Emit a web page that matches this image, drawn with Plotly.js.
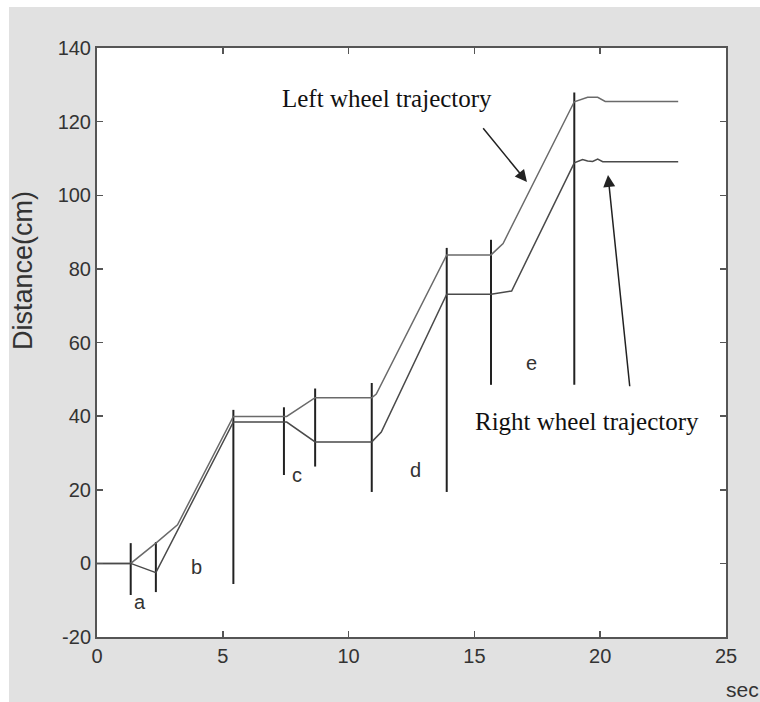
<!DOCTYPE html>
<html>
<head>
<meta charset="utf-8">
<script src="https://cdn.plot.ly/plotly-3.0.1.min.js"></script>
<style>
  html, body { margin: 0; padding: 0; background: #ffffff; }
  #chart { position: absolute; left: 9px; top: 7px; width: 751px; height: 695px; }
</style>
</head>
<body>
<div id="chart"></div>
<script>
// Left wheel trajectory (upper curve)
var leftX = [0, 1.34, 2.34, 3.2, 5.42, 7.54, 8.67, 10.92, 11.1, 13.9, 15.66, 16.14, 18.97, 19.3, 19.5, 19.9, 20.2, 23.1];
var leftY = [0, 0, 5.5, 10.5, 39.9, 39.9, 45.0, 45.0, 46.0, 83.8, 83.8, 86.9, 125.4, 126.2, 126.6, 126.6, 125.5, 125.5];
// Right wheel trajectory (lower curve)
var rightX = [0, 1.34, 2.34, 5.42, 7.54, 8.67, 10.92, 11.3, 13.9, 15.66, 16.48, 18.97, 19.3, 19.5, 19.7, 19.9, 20.1, 23.1];
var rightY = [0, 0, -2.5, 38.4, 38.4, 33.0, 33.0, 35.7, 73.1, 73.1, 74.0, 108.8, 109.7, 109.3, 109.2, 109.8, 109.1, 109.1];
// Phase boundary markers (vertical segments)
var markX = [1.34, 2.34, 5.42, 7.43, 8.67, 10.92, 13.9, 15.66, 18.97];
var markTop = [5.5, 5.8, 41.7, 42.4, 47.5, 49.0, 85.7, 87.9, 127.9];
var markBottom = [-8.6, -7.8, -5.6, 24.0, 26.3, 19.4, 19.4, 48.5, 48.5];
// Phase labels
var phaseText = ["a", "b", "c", "d", "e"];
var phaseX = [1.71, 3.96, 7.96, 12.64, 17.28];
var phaseY = [-10.4, -0.9, 24.0, 25.4, 54.3];
// Tick values
var xTicks = [0, 5, 10, 15, 20, 25];
var yTicks = [-20, 0, 20, 40, 60, 80, 100, 120, 140];

var segX = [], segY = [];
for (var i = 0; i < markX.length; i++) {
  segX.push(markX[i], markX[i], null);
  segY.push(markBottom[i], markTop[i], null);
}

var traces = [
  {x: segX, y: segY, type: 'scatter', mode: 'lines', line: {color: '#222222', width: 2}, hoverinfo: 'skip', showlegend: false},
  {x: leftX, y: leftY, type: 'scatter', mode: 'lines', name: 'Left wheel', line: {color: '#6a6a6a', width: 1.5}, showlegend: false},
  {x: rightX, y: rightY, type: 'scatter', mode: 'lines', name: 'Right wheel', line: {color: '#4a4a4a', width: 1.5}, showlegend: false}
];

var tickFont = {family: '"Liberation Sans Narrow", "Arial Narrow", "Liberation Sans", sans-serif', size: 20, color: '#333333'};
var serif = {family: '"Liberation Serif", "Times New Roman", serif', size: 25, color: '#111111'};

var annotations = [];
for (var j = 0; j < phaseText.length; j++) {
  annotations.push({x: phaseX[j], y: phaseY[j], xref: 'x', yref: 'y', text: phaseText[j], showarrow: false,
    font: {family: tickFont.family, size: 20, color: '#333333'}});
}
annotations.push({x: 11.51, y: 126.4, xref: 'x', yref: 'y', text: 'Left wheel trajectory', showarrow: false, font: serif});
annotations.push({x: 19.46, y: 38.5, xref: 'x', yref: 'y', text: 'Right wheel trajectory', showarrow: false, font: serif});
annotations.push({x: 17.09, y: 103.6, ax: 15.30, ay: 118.6, xref: 'x', yref: 'y', axref: 'x', ayref: 'y', text: '',
  showarrow: true, arrowhead: 2, arrowsize: 1.6, arrowwidth: 1.5, arrowcolor: '#222222'});
annotations.push({x: 20.31, y: 105.5, ax: 21.18, ay: 47.7, xref: 'x', yref: 'y', axref: 'x', ayref: 'y', text: '',
  showarrow: true, arrowhead: 2, arrowsize: 1.6, arrowwidth: 1.5, arrowcolor: '#222222'});
annotations.push({x: 14, y: 0.5, xref: 'paper', yref: 'paper', text: 'Distance(cm)', showarrow: false, textangle: -90,
  font: {family: '"Liberation Sans", Arial, sans-serif', size: 27, color: '#333333'}});
annotations.push({x: 718, y: 3, xref: 'paper', yref: 'paper', text: 'sec', showarrow: false, xanchor: 'left',
  font: {family: '"Liberation Sans", Arial, sans-serif', size: 21, color: '#333333'}});

var layout = {
  width: 751, height: 695,
  margin: {l: 88, r: 34, t: 41, b: 65},
  paper_bgcolor: '#e1e1e1',
  plot_bgcolor: '#ffffff',
  showlegend: false,
  xaxis: {range: [0, 25], tickvals: xTicks, ticktext: xTicks.map(String), ticks: 'inside', ticklen: 6, tickwidth: 1.5, tickcolor: '#555555',
    showline: true, linecolor: '#555555', linewidth: 2, mirror: 'ticks', showgrid: false, zeroline: false, tickfont: tickFont, fixedrange: true},
  yaxis: {range: [-20, 140], tickvals: yTicks, ticktext: yTicks.map(String), ticks: 'inside', ticklen: 6, tickwidth: 1.5, tickcolor: '#555555',
    showline: true, linecolor: '#555555', linewidth: 2, mirror: 'ticks', showgrid: false, zeroline: false, tickfont: tickFont, fixedrange: true},
  annotations: annotations
};

// Position paper-ref texts by page pixels
var plotW = 751 - 88 - 34, plotH = 695 - 41 - 65;
var yLab = annotations[annotations.length - 2], secLab = annotations[annotations.length - 1];
yLab.x = (23 - 9 - 88) / plotW;
yLab.y = (695 - (271 - 7) - 65) / plotH;
yLab.xanchor = 'center';
secLab.x = (724 - 9 - 88) / plotW;
secLab.y = (695 - (689 - 7) - 65) / plotH;
secLab.yanchor = 'middle';

Plotly.newPlot('chart', traces, layout, {displayModeBar: false, staticPlot: true});
</script>
</body>
</html>
